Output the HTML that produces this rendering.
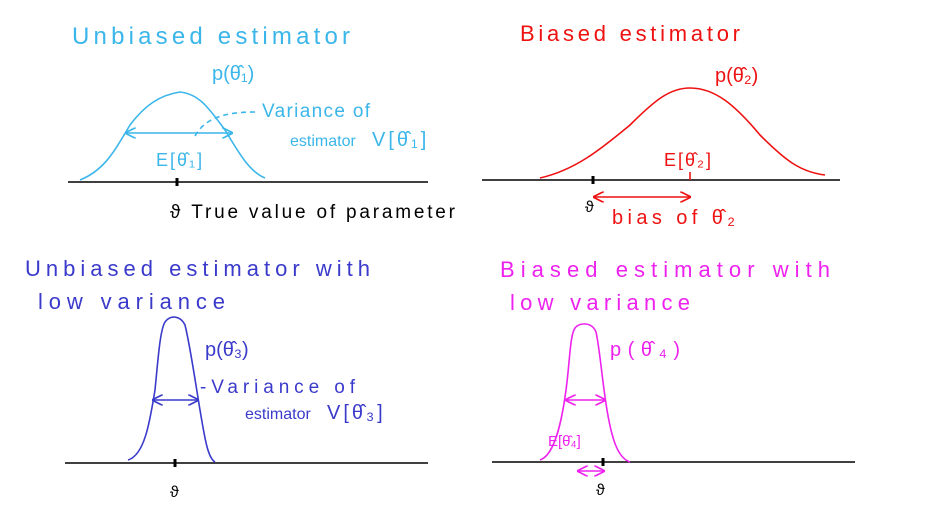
<!DOCTYPE html>
<html><head><meta charset="utf-8"><style>
html,body{margin:0;padding:0;background:#fff;}
svg{display:block;}
text{font-family:"Liberation Sans","DejaVu Sans",sans-serif;}
</style></head><body>
<svg width="927" height="510" viewBox="0 0 927 510" xmlns="http://www.w3.org/2000/svg">
<defs>
<marker id="ah" viewBox="0 0 10 10" refX="9" refY="5" markerWidth="7" markerHeight="7" orient="auto-start-reverse"><path d="M0,0 L10,5 L0,10" fill="none" stroke="context-stroke" stroke-width="1.5"/></marker>
</defs>

<!-- Panel 1 cyan -->
<g stroke="#3bb6ea" fill="none" stroke-width="1.6">
<text x="72" y="44" fill="#3bb6ea" stroke="none" font-size="24" textLength="278" lengthAdjust="spacing">Unbiased estimator</text>
<line x1="68" y1="182" x2="428" y2="182" stroke="#000"/>
<line x1="177" y1="178" x2="177" y2="186" stroke="#000" stroke-width="3"/>
<path d="M80,180 C105,170 115,150 130,125 C145,105 160,95 180,92 C200,94 210,110 225,130 C240,155 250,172 265,178"/>
<text x="212" y="80" fill="#3bb6ea" stroke="none" font-size="20">p(θ̂₁)</text>
<line x1="126" y1="133" x2="232" y2="133" marker-start="url(#ah)" marker-end="url(#ah)"/>
<text x="156" y="166" fill="#3bb6ea" stroke="none" font-size="18" letter-spacing="2">E[θ̂₁]</text>
<path d="M195,136 C205,118 225,112 255,112" stroke-dasharray="5,4"/>
<text x="262" y="117" fill="#3bb6ea" stroke="none" font-size="19" textLength="108" lengthAdjust="spacing">Variance of</text>
<text x="290" y="146" fill="#3bb6ea" stroke="none" font-size="16">estimator</text>
<text x="372" y="146" fill="#3bb6ea" stroke="none" font-size="20" letter-spacing="3">V[θ̂₁]</text>
<text x="170" y="218" fill="#000" stroke="none" font-size="19" textLength="285" lengthAdjust="spacing">ϑ True value of parameter</text>
</g>

<!-- Panel 2 red -->
<g stroke="#ee1111" fill="none" stroke-width="1.6">
<text x="520" y="41" fill="#ee1111" stroke="none" font-size="22" textLength="220" lengthAdjust="spacing">Biased estimator</text>
<line x1="482" y1="180" x2="840" y2="180" stroke="#000"/>
<line x1="593" y1="176" x2="593" y2="184" stroke="#000" stroke-width="3"/>
<path d="M540,178 C575,170 600,150 630,125 C655,100 670,88 690,88 C715,88 735,105 760,135 C785,160 800,172 825,175"/>
<text x="715" y="82" fill="#ee1111" stroke="none" font-size="20">p(θ̂₂)</text>
<line x1="690" y1="172" x2="690" y2="180"/>
<text x="664" y="166" fill="#ee1111" stroke="none" font-size="18" letter-spacing="2">E[θ̂₂]</text>
<line x1="594" y1="197" x2="690" y2="197" marker-start="url(#ah)" marker-end="url(#ah)"/>
<text x="585" y="212" fill="#000" stroke="none" font-size="16">ϑ</text>
<text x="612" y="224" fill="#ee1111" stroke="none" font-size="20" textLength="123" lengthAdjust="spacing">bias of θ̂₂</text>
</g>

<!-- Panel 3 blue -->
<g stroke="#3a3acb" fill="none" stroke-width="1.6">
<text x="25" y="276" fill="#3a3acb" stroke="none" font-size="22" textLength="345" lengthAdjust="spacing">Unbiased estimator with</text>
<text x="38" y="309" fill="#3a3acb" stroke="none" font-size="22" textLength="187" lengthAdjust="spacing">low variance</text>
<line x1="65" y1="463" x2="428" y2="463" stroke="#000"/>
<line x1="175" y1="459" x2="175" y2="467" stroke="#000" stroke-width="3"/>
<path d="M128,460 C145,455 150,420 155,390 C158,360 160,330 165,322 C170,315 180,315 185,325 C190,345 195,380 200,410 C205,440 208,458 215,462"/>
<line x1="153" y1="400" x2="198" y2="400" marker-start="url(#ah)" marker-end="url(#ah)"/>
<text x="205" y="356" fill="#3a3acb" stroke="none" font-size="20">p(θ̂₃)</text>
<text x="200" y="393" fill="#3a3acb" stroke="none" font-size="19" textLength="155" lengthAdjust="spacing">-Variance of</text>
<text x="245" y="419" fill="#3a3acb" stroke="none" font-size="16">estimator</text>
<text x="327" y="419" fill="#3a3acb" stroke="none" font-size="20" letter-spacing="3">V[θ̂₃]</text>
<text x="170" y="497" fill="#000" stroke="none" font-size="16">ϑ</text>
</g>

<!-- Panel 4 magenta -->
<g stroke="#ee22ee" fill="none" stroke-width="1.6">
<text x="500" y="277" fill="#ee22ee" stroke="none" font-size="22" textLength="330" lengthAdjust="spacing">Biased estimator with</text>
<text x="510" y="310" fill="#ee22ee" stroke="none" font-size="22" textLength="180" lengthAdjust="spacing">low variance</text>
<line x1="492" y1="462" x2="855" y2="462" stroke="#000"/>
<line x1="603" y1="458" x2="603" y2="466" stroke="#000" stroke-width="3"/>
<path d="M540,460 C555,455 562,420 566,390 C570,360 570,335 575,328 C580,322 592,322 596,332 C600,350 602,380 607,410 C612,440 618,458 630,462"/>
<line x1="566" y1="400" x2="605" y2="400" marker-start="url(#ah)" marker-end="url(#ah)"/>
<text x="610" y="356" fill="#ee22ee" stroke="none" font-size="20" textLength="70" lengthAdjust="spacing">p(θ̂₄)</text>
<text x="548" y="446" fill="#ee22ee" stroke="none" font-size="15">E[θ̂₄]</text>
<line x1="578" y1="471" x2="604" y2="471" marker-start="url(#ah)" marker-end="url(#ah)"/>
<text x="596" y="495" fill="#000" stroke="none" font-size="16">ϑ</text>
</g>
</svg>
</body></html>
